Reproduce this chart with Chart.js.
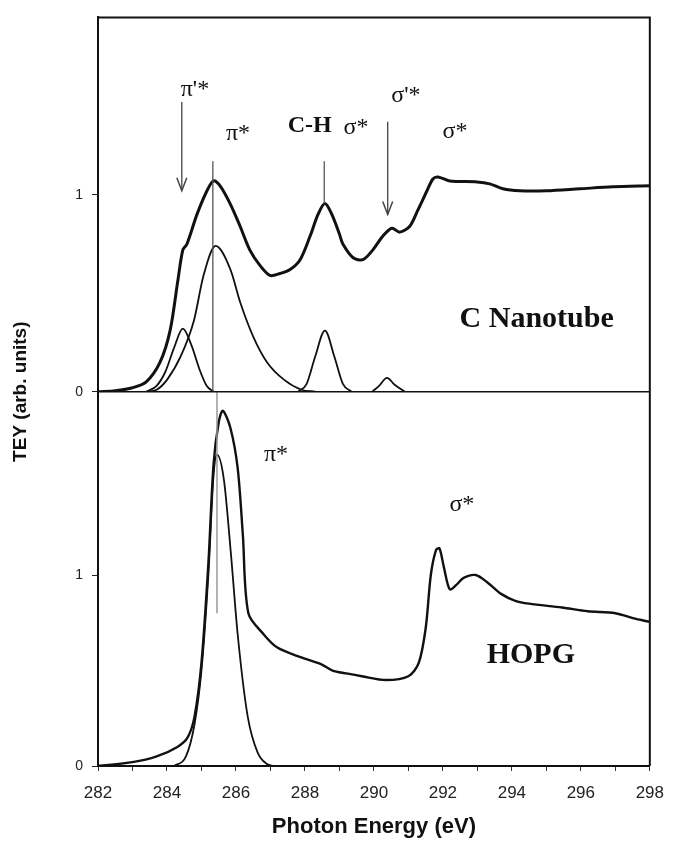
<!DOCTYPE html>
<html>
<head>
<meta charset="utf-8">
<script src="https://cdn.jsdelivr.net/npm/chart.js@4.4.1/dist/chart.umd.min.js"></script>
<style>
  html, body { margin: 0; padding: 0; background: #fff; }
</style>
</head>
<body>
<canvas id="chart" width="676" height="846"></canvas>
<script>
// C nanotube spectrum (upper panel), photon energy in eV and TEY
const nanotubeE = [282.0, 282.5, 283.0, 283.4, 283.8, 284.09, 284.32, 284.46, 284.58, 284.87, 285.16, 285.35, 285.54, 285.83, 286.12, 286.4, 286.7, 286.99, 287.28, 287.57, 287.86, 288.15, 288.38, 288.58, 288.78, 289.0, 289.1, 289.4, 289.68, 289.97, 290.26, 290.52, 290.75, 291.04, 291.27, 291.54, 291.71, 291.86, 292.2, 292.99, 293.36, 293.74, 294.23, 295.0, 295.97, 296.93, 298.0];
const nanotubeTEY = [0.0, 0.005, 0.02, 0.05, 0.15, 0.31, 0.57, 0.72, 0.75, 0.9, 1.02, 1.07, 1.045, 0.955, 0.84, 0.72, 0.64, 0.59, 0.6, 0.62, 0.67, 0.79, 0.9, 0.955, 0.9, 0.8, 0.75, 0.68, 0.67, 0.72, 0.79, 0.83, 0.81, 0.84, 0.92, 1.02, 1.08, 1.09, 1.07, 1.065, 1.055, 1.03, 1.02, 1.02, 1.03, 1.04, 1.045];

// fitted components of the nanotube spectrum
const piPrimeE = [283.4, 283.7, 283.95, 284.2, 284.46, 284.7, 284.95, 285.15, 285.35];
const piPrimeTEY = [0.0, 0.03, 0.1, 0.22, 0.32, 0.24, 0.11, 0.03, 0.0];
const piStarE = [283.4, 283.7, 284.0, 284.4, 284.78, 285.06, 285.41, 285.84, 286.13, 286.5, 286.9, 287.4, 287.9, 288.3];
const piStarTEY = [0.0, 0.01, 0.06, 0.18, 0.36, 0.59, 0.74, 0.62, 0.45, 0.28, 0.15, 0.06, 0.01, 0.0];
const chE = [287.8, 288.05, 288.3, 288.58, 288.85, 289.1, 289.35];
const chTEY = [0.0, 0.04, 0.18, 0.31, 0.18, 0.04, 0.0];
const sigmaPrimeE = [289.95, 290.15, 290.38, 290.6, 290.9];
const sigmaPrimeTEY = [0.0, 0.03, 0.07, 0.035, 0.0];

// HOPG spectrum (lower panel) and its pi* component
const hopgE = [282.0, 283.0, 283.7, 284.3, 284.6, 284.8, 285.0, 285.2, 285.35, 285.5, 285.62, 285.84, 286.05, 286.2, 286.36, 286.8, 287.2, 287.87, 288.45, 288.8, 289.2, 289.65, 290.35, 291.0, 291.3, 291.5, 291.65, 291.8, 291.9, 292.03, 292.2, 292.4, 292.6, 292.95, 293.3, 293.7, 294.1, 294.5, 295.45, 296.2, 297.0, 297.6, 298.0];
const hopgTEY = [0.0, 0.02, 0.05, 0.1, 0.15, 0.26, 0.54, 1.06, 1.58, 1.8, 1.86, 1.77, 1.56, 1.21, 0.8, 0.69, 0.62, 0.57, 0.535, 0.5, 0.485, 0.47, 0.45, 0.47, 0.54, 0.72, 1.0, 1.13, 1.14, 1.04, 0.925, 0.95, 0.985, 1.0, 0.96, 0.9, 0.865, 0.85, 0.83, 0.81, 0.8, 0.77, 0.755];
const hopgPiE = [284.2, 284.55, 284.8, 285.0, 285.2, 285.35, 285.45, 285.65, 285.85, 286.05, 286.34, 286.63, 286.9, 287.1];
const hopgPiTEY = [0.0, 0.05, 0.22, 0.5, 1.0, 1.52, 1.63, 1.5, 1.12, 0.69, 0.26, 0.07, 0.01, 0.0];

// marker lines and arrows: [energy, from, to]
const piMarkTop = [285.33, 1.17, 0];
const piMarkBottom = [285.45, 1.96, 0.8];
const chMark = [288.56, 1.17, 0.955];
const piPrimeArrow = [284.43, 1.47, 1.02];
const sigmaPrimeArrow = [290.4, 1.37, 0.9];

// text labels
const labelText = ["π'*", 'π*', 'C-H', 'σ*', "σ'*", 'σ*', 'C Nanotube', 'π*', 'σ*', 'HOPG'];
const labelE = [284.81, 286.06, 288.14, 289.48, 290.93, 292.35, 294.72, 287.16, 292.55, 294.55];
const labelTEY = [1.535, 1.31, 1.35, 1.34, 1.5, 1.32, 0.37, 1.63, 1.37, 0.58];
const labelPanel = ['yTop', 'yTop', 'yTop', 'yTop', 'yTop', 'yTop', 'yTop', 'yBottom', 'yBottom', 'yBottom'];
const labelKind = ['greek', 'greek', 'bold', 'greek', 'greek', 'greek', 'sample', 'greek', 'greek', 'sample'];

const xTicks = [282, 284, 286, 288, 290, 292, 294, 296, 298];
const yTicks = [0, 1];

const labelFonts = {
    greek: '24px "Liberation Serif", "DejaVu Serif", serif',
    bold: 'bold 24px "Liberation Serif", "DejaVu Serif", serif',
    sample: 'bold 30px "Liberation Serif", "DejaVu Serif", serif'
};

function pts(xs, ys) {
    return xs.map((x, i) => ({x: x, y: ys[i]}));
}
function seg(m) {
    return [{x: m[0], y: m[1]}, {x: m[0], y: m[2]}];
}

// spectra get a soft bezier, fitted peaks stay monotone so they never dip below zero
function spectrum(xs, ys, axis, width) {
    return {
        data: pts(xs, ys), yAxisID: axis, borderColor: '#111', borderWidth: width,
        tension: 0.3, pointRadius: 0
    };
}
function component(xs, ys, axis, width) {
    return {
        data: pts(xs, ys), yAxisID: axis, borderColor: '#111', borderWidth: width,
        cubicInterpolationMode: 'monotone', pointRadius: 0
    };
}
function marker(m, axis, color, width, arrow) {
    return {
        data: seg(m), yAxisID: axis, borderColor: color, borderWidth: width,
        pointRadius: 0, tension: 0, arrow: arrow
    };
}

const framePlugin = {
    id: 'frame',
    afterDatasetsDraw(chart) {
        const ctx = chart.ctx;
        const a = chart.chartArea;
        ctx.save();
        ctx.strokeStyle = '#111';
        ctx.lineWidth = 2;
        ctx.beginPath();
        ctx.moveTo(a.left, a.top);
        ctx.lineTo(a.right, a.top);
        ctx.lineTo(a.right, a.bottom);
        ctx.stroke();
        // panel separator = zero line of the upper panel
        const y0 = chart.scales.yTop.getPixelForValue(0);
        ctx.lineWidth = 1.5;
        ctx.beginPath();
        ctx.moveTo(a.left, y0);
        ctx.lineTo(a.right, y0);
        ctx.stroke();

        // arrow heads
        chart.data.datasets.forEach((ds, i) => {
            if (!ds.arrow) return;
            const el = chart.getDatasetMeta(i).data[1];
            ctx.strokeStyle = ds.borderColor;
            ctx.lineWidth = 1.5;
            ctx.beginPath();
            ctx.moveTo(el.x - 5, el.y - 13);
            ctx.lineTo(el.x, el.y);
            ctx.lineTo(el.x + 5, el.y - 13);
            ctx.stroke();
        });

        // annotations
        ctx.fillStyle = '#111';
        ctx.textAlign = 'center';
        ctx.textBaseline = 'middle';
        labelText.forEach((t, i) => {
            ctx.font = labelFonts[labelKind[i]];
            const x = chart.scales.x.getPixelForValue(labelE[i]);
            const y = chart.scales[labelPanel[i]].getPixelForValue(labelTEY[i]);
            ctx.fillText(t, x, y);
        });

        // shared y title
        ctx.font = 'bold 19px "Liberation Sans", Arial, sans-serif';
        ctx.translate(21, (a.top + a.bottom) / 2);
        ctx.rotate(-Math.PI / 2);
        ctx.fillText('TEY (arb. units)', 0, 0);
        ctx.restore();
    }
};

function yAxis(max) {
    return {
        type: 'linear', position: 'left', stack: 'panels', stackWeight: 1,
        min: 0, max: max,
        afterBuildTicks: axis => { axis.ticks = yTicks.map(v => ({value: v})); },
        afterFit: axis => { axis.width = 98; },
        ticks: {
            color: '#222', padding: 9,
            font: {family: '"Liberation Sans", Arial, sans-serif', size: 14}
        },
        grid: {drawOnChartArea: false, tickLength: 6, color: '#222'},
        border: {color: '#111', width: 2}
    };
}

const ctx = document.getElementById('chart').getContext('2d');
const chart = new Chart(ctx, {
    type: 'line',
    data: {
        datasets: [
            marker(piMarkTop, 'yTop', '#555', 1.3, false),
            marker(piMarkBottom, 'yBottom', '#999', 1.5, false),
            marker(chMark, 'yTop', '#555', 1.3, false),
            marker(piPrimeArrow, 'yTop', '#444', 1.3, true),
            marker(sigmaPrimeArrow, 'yTop', '#444', 1.3, true),
            component(piPrimeE, piPrimeTEY, 'yTop', 1.8),
            component(piStarE, piStarTEY, 'yTop', 1.8),
            component(chE, chTEY, 'yTop', 1.8),
            component(sigmaPrimeE, sigmaPrimeTEY, 'yTop', 1.8),
            spectrum(nanotubeE, nanotubeTEY, 'yTop', 3),
            component(hopgPiE, hopgPiTEY, 'yBottom', 1.8),
            spectrum(hopgE, hopgTEY, 'yBottom', 2.4)
        ]
    },
    options: {
        responsive: false,
        animation: false,
        layout: {padding: {top: 12, right: 24, bottom: 0, left: 0}},
        plugins: {legend: {display: false}, tooltip: {enabled: false}},
        scales: {
            x: {
                type: 'linear', min: 282, max: 298,
                afterBuildTicks: axis => {
                    const t = [];
                    for (let v = 282; v <= 298; v++) t.push({value: v});
                    axis.ticks = t;
                },
                afterFit: axis => { axis.height = 80; },
                ticks: {
                    color: '#222', padding: 12, maxRotation: 0, autoSkip: false,
                    callback: v => xTicks.includes(v) ? String(v) : '',
                    font: {family: '"Liberation Sans", Arial, sans-serif', size: 17}
                },
                grid: {drawOnChartArea: false, tickLength: 5, color: '#333'},
                border: {color: '#111', width: 2},
                title: {
                    display: true, text: 'Photon Energy (eV)', color: '#111',
                    padding: {top: 0, bottom: 6},
                    font: {family: '"Liberation Sans", Arial, sans-serif', size: 22, weight: 'bold'}
                }
            },
            yBottom: yAxis(1.96),
            yTop: yAxis(1.9)
        }
    },
    plugins: [framePlugin]
});
</script>
</body>
</html>
